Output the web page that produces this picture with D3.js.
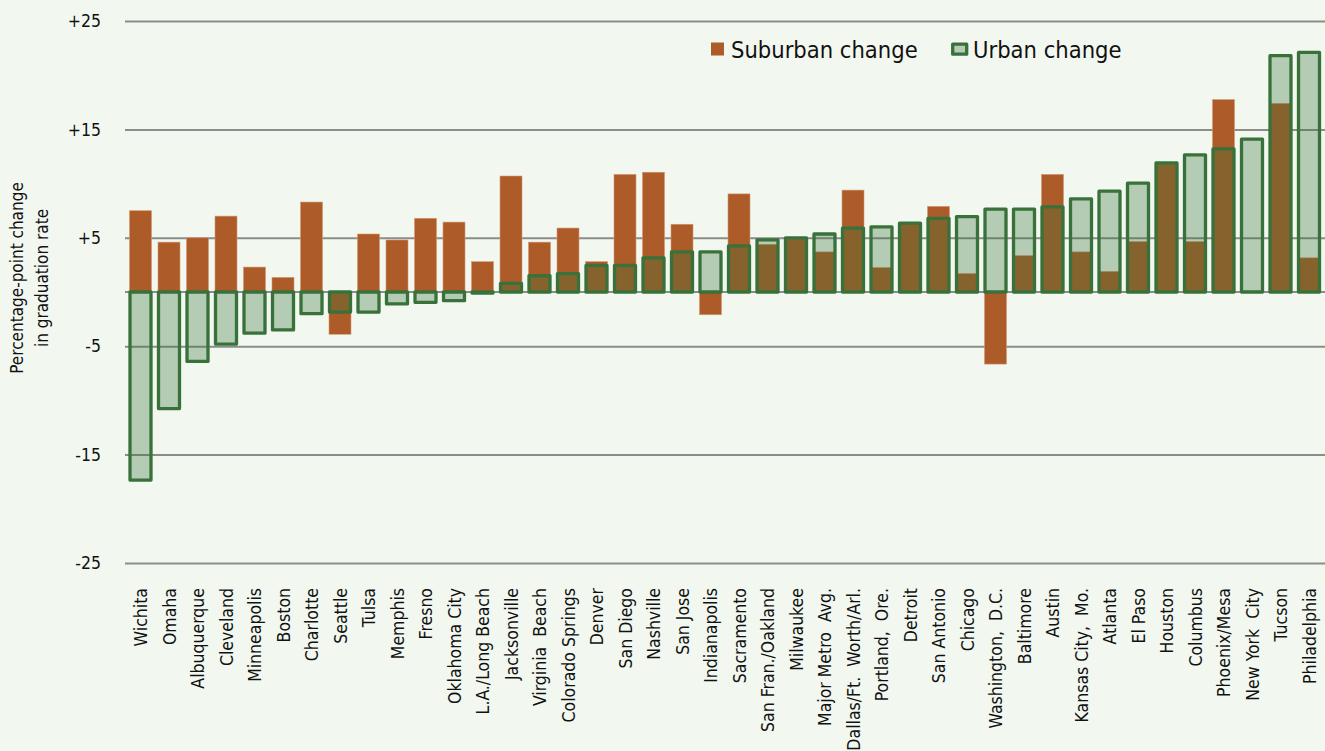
<!DOCTYPE html>
<html>
<head>
<meta charset="utf-8">
<script src="https://cdn.jsdelivr.net/npm/d3@7"></script>
<style>
    body { margin: 0; background: #f2f8f0; }
    svg { display: block; }
    text { font-family: "DejaVu Sans Condensed", "DejaVu Sans", Verdana, sans-serif; font-stretch: condensed; fill: #111; }
</style>
</head>
<body>
<div id="chart"></div>
<script>
// graduation rate change, urban vs suburban, by metro
const cities = ["Wichita", "Omaha", "Albuquerque", "Cleveland", "Minneapolis", "Boston", "Charlotte",
    "Seattle", "Tulsa", "Memphis", "Fresno", "Oklahoma City", "L.A./Long Beach", "Jacksonville",
    "Virginia  Beach", "Colorado Springs", "Denver", "San Diego", "Nashville", "San Jose",
    "Indianapolis", "Sacramento", "San Fran./Oakland", "Milwaukee", "Major Metro  Avg.",
    "Dallas/Ft.  Worth/Arl.", "Portland,  Ore.", "Detroit", "San Antonio", "Chicago",
    "Washington,  D.C.", "Baltimore", "Austin", "Kansas City,  Mo.", "Atlanta", "El Paso",
    "Houston", "Columbus", "Phoenix/Mesa", "New York  City", "Tucson", "Philadelphia"];

const suburban = [7.5, 4.6, 5.0, 7.0, 2.3, 1.35, 8.3,
    -3.9, 5.35, 4.8, 6.8, 6.45, 2.8, 10.7,
    4.6, 5.9, 2.8, 10.85, 11.05, 6.25,
    -2.1, 9.05, 4.4, 4.9, 3.7,
    9.4, 2.25, 6.3, 7.9, 1.7,
    -6.65, 3.35, 10.85, 3.7, 1.9, 4.65,
    11.8, 4.65, 17.75, 0, 17.4, 3.15];

const urban = [-17.35, -10.75, -6.4, -4.8, -3.8, -3.5, -2.0,
    -1.85, -1.85, -1.1, -0.95, -0.8, -0.1, 0.8,
    1.5, 1.7, 2.45, 2.45, 3.15, 3.7,
    3.7, 4.25, 4.8, 5.0, 5.35,
    5.9, 6.0, 6.35, 6.8, 6.95,
    7.65, 7.65, 7.85, 8.6, 9.3, 10.05,
    11.9, 12.65, 13.2, 14.1, 21.8, 22.1];

const yTicks = [25, 15, 5, -5, -15, -25];
const seriesNames = ["Suburban change", "Urban change"];

const data = cities.map((c, i) => ({city: c, sub: suburban[i], urb: urban[i]}));

const W = 1325, H = 751;
const orange = "#ad5b28", green = "#38713a";

const svg = d3.select("#chart").append("svg")
    .attr("width", W)
    .attr("height", H);

svg.append("rect").attr("width", W).attr("height", H).attr("fill", "#f2f8f0");

// scales
const x = d3.scaleBand()
    .domain(cities)
    .range([126.25, 1323.25]);
const y = d3.scaleLinear()
    .domain([-25, 25])
    .range([563, 21]);

// grid lines + tick labels
const yAxis = d3.axisLeft(y)
    .tickValues(yTicks)
    .tickSize(-(W - 125))
    .tickPadding(24)
    .tickFormat(d => d > 0 ? "+" + d : String(d));

const yAxisGroup = svg.append("g")
    .attr("transform", "translate(125,0)")
    .call(yAxis);
yAxisGroup.select(".domain").remove();
yAxisGroup.selectAll("line")
    .attr("stroke", "#8c8c8c")
    .attr("stroke-width", 2);
yAxisGroup.selectAll("text")
    .style("font-size", "17.5px")
    .style("font-family", null)
    .attr("fill", "#111");
yAxisGroup.attr("font-family", null);

// zero line
svg.append("line")
    .attr("x1", 125).attr("x2", W)
    .attr("y1", y(0)).attr("y2", y(0))
    .attr("stroke", "#8c8c8c")
    .attr("stroke-width", 2);

// suburban bars
const subW = 22;
svg.append("g").selectAll("rect")
    .data(data)
    .enter()
    .append("rect")
    .attr("x", d => x(d.city) + x.bandwidth() / 2 - subW / 2)
    .attr("y", d => y(Math.max(0, d.sub)))
    .attr("width", subW)
    .attr("height", d => Math.abs(y(d.sub) - y(0)))
    .attr("fill", orange)
    .attr("stroke", "#d49a74")
    .attr("stroke-width", 0.6);

// urban bars, translucent fill with heavy outline
const urbW = 21;
svg.append("g").selectAll("rect")
    .data(data)
    .enter()
    .append("rect")
    .attr("x", d => x(d.city) + x.bandwidth() / 2 - urbW / 2)
    .attr("y", d => y(Math.max(0, d.urb)))
    .attr("width", urbW)
    .attr("height", d => Math.abs(y(d.urb) - y(0)))
    .attr("fill", green)
    .attr("fill-opacity", 0.33)
    .attr("stroke", green)
    .attr("stroke-width", 3.3)
    .attr("stroke-linejoin", "round");

// category labels
svg.append("g").selectAll("text")
    .data(cities)
    .enter()
    .append("text")
    .attr("transform", d => `translate(${x(d) + x.bandwidth() / 2 + 6.5}, 588) rotate(-90)`)
    .attr("text-anchor", "end")
    .style("font-size", "17.5px")
    .style("white-space", "pre")
    .text(d => d);

// y title
const yTitle = svg.append("text")
    .attr("transform", "translate(0, 278) rotate(-90)")
    .attr("text-anchor", "middle")
    .style("font-size", "17px");
yTitle.append("tspan").attr("x", 0).attr("y", 23).text("Percentage-point change");
yTitle.append("tspan").attr("x", 0).attr("y", 48).text("in graduation rate");

// legend
const legend = svg.append("g").attr("class", "legend");
legend.append("rect")
    .attr("x", 711).attr("y", 42.5)
    .attr("width", 13).attr("height", 13)
    .attr("fill", orange);
legend.append("text")
    .attr("x", 731).attr("y", 57.5)
    .style("font-size", "23.5px")
    .text(seriesNames[0]);
legend.append("rect")
    .attr("x", 952.7).attr("y", 44.2)
    .attr("width", 14).attr("height", 10)
    .attr("fill", green)
    .attr("fill-opacity", 0.33)
    .attr("stroke", green)
    .attr("stroke-width", 3.3)
    .attr("stroke-linejoin", "round");
legend.append("text")
    .attr("x", 973).attr("y", 57.5)
    .style("font-size", "23.5px")
    .text(seriesNames[1]);
</script>
</body>
</html>
